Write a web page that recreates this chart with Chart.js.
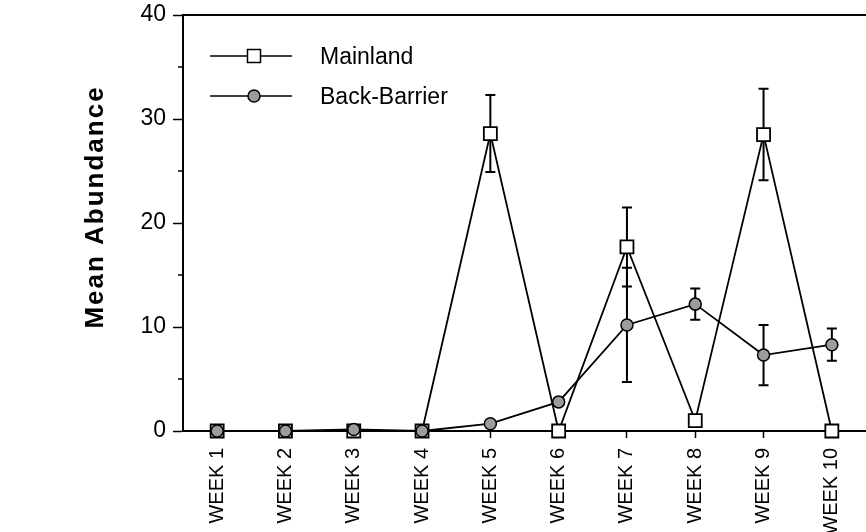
<!DOCTYPE html>
<html>
<head>
<meta charset="utf-8">
<script src="https://cdn.jsdelivr.net/npm/chart.js@4.4.0/dist/chart.umd.min.js"></script>
<style>
  html, body { margin: 0; padding: 0; background: #ffffff; }
  canvas { display: block; }
</style>
</head>
<body>
<canvas id="c" width="866" height="532"></canvas>
<script>
const categories = ['WEEK 1', 'WEEK 2', 'WEEK 3', 'WEEK 4', 'WEEK 5', 'WEEK 6', 'WEEK 7', 'WEEK 8', 'WEEK 9', 'WEEK 10'];
const mainland = [0, 0, 0, 0, 28.6, 0, 17.7, 1.0, 28.5, 0];
const mainlandErr = [0, 0, 0, 0, 3.7, 0, 3.8, 0.3, 4.4, 0];
const backBarrier = [0, 0, 0.15, 0, 0.7, 2.8, 10.2, 12.2, 7.3, 8.3];
const backBarrierErr = [0, 0, 0, 0, 0, 0, 5.5, 1.5, 2.9, 1.55];
const yMin = 0, yMax = 40, yStep = 10;
const yMinorTicks = [5, 15, 25, 35];
const yTitle = 'Mean Abundance';

const FONT = "'Liberation Sans', Arial, Helvetica, sans-serif";
const errors = [backBarrierErr, mainlandErr];

const errorBarPlugin = {
  id: 'errorBars',
  beforeDatasetsDraw(chart) {
    const ctx = chart.ctx;
    const xs = chart.scales.x, ys = chart.scales.y;
    ctx.save();
    ctx.strokeStyle = '#000';
    ctx.lineWidth = 2;
    chart.data.datasets.forEach((ds, di) => {
      const err = errors[di];
      ds.data.forEach((v, i) => {
        const e = err[i];
        if (!e) return;
        const x = xs.getPixelForValue(i);
        const yt = ys.getPixelForValue(v + e);
        const yb = ys.getPixelForValue(v - e);
        ctx.beginPath();
        ctx.moveTo(x, yt); ctx.lineTo(x, yb);
        ctx.moveTo(x - 5, yt); ctx.lineTo(x + 5, yt);
        ctx.moveTo(x - 5, yb); ctx.lineTo(x + 5, yb);
        ctx.stroke();
      });
    });
    ctx.restore();
  }
};

const decorPlugin = {
  id: 'decor',
  afterDraw(chart) {
    const ctx = chart.ctx;
    const a = chart.chartArea;
    const ys = chart.scales.y;
    ctx.save();
    ctx.strokeStyle = '#000';
    ctx.lineWidth = 2;
    ctx.beginPath();
    ctx.moveTo(a.left, a.top);
    ctx.lineTo(chart.width, a.top);
    ctx.moveTo(a.right, a.bottom);
    ctx.lineTo(chart.width, a.bottom);
    ctx.stroke();
    ctx.lineWidth = 1.5;
    yMinorTicks.forEach(v => {
      const y = ys.getPixelForValue(v);
      ctx.beginPath();
      ctx.moveTo(a.left - 5, y);
      ctx.lineTo(a.left, y);
      ctx.stroke();
    });
    ctx.fillStyle = '#000';
    ctx.font = "bold 26px " + FONT;
    try { ctx.letterSpacing = '2px'; } catch (e) {}
    ctx.textAlign = 'center';
    ctx.textBaseline = 'middle';
    ctx.translate(96, 207);
    ctx.rotate(-Math.PI / 2);
    ctx.fillText(yTitle, 0, 0);
    ctx.restore();

    ctx.save();
    try { ctx.letterSpacing = '0px'; } catch (e) {}
    const items = [chart.data.datasets[1], chart.data.datasets[0]];
    items.forEach((ds, k) => {
      const y = 56 + k * 40;
      ctx.strokeStyle = '#000';
      ctx.lineWidth = 1.5;
      ctx.beginPath();
      ctx.moveTo(210, y); ctx.lineTo(292, y);
      ctx.stroke();
      ctx.fillStyle = ds.pointBackgroundColor;
      ctx.lineWidth = 1.5;
      ctx.beginPath();
      if (ds.pointStyle === 'rect') {
        ctx.rect(254 - 6.5, y - 6.5, 13, 13);
      } else {
        ctx.arc(254, y, 6, 0, Math.PI * 2);
      }
      ctx.fill();
      ctx.stroke();
      ctx.fillStyle = '#000';
      ctx.font = "23px " + FONT;
      ctx.textAlign = 'left';
      ctx.textBaseline = 'middle';
      ctx.fillText(ds.label, 320, y + 2);
    });
    ctx.restore();
  }
};

new Chart(document.getElementById('c'), {
  type: 'line',
  data: {
    labels: categories,
    datasets: [
      {
        label: 'Back-Barrier',
        data: backBarrier,
        borderColor: '#000',
        borderWidth: 1.8,
        pointStyle: 'circle',
        pointRadius: 6,
        pointBorderWidth: 1.5,
        pointBorderColor: '#000',
        pointBackgroundColor: '#9c9c9c',
        tension: 0,
        clip: false,
        order: 0
      },
      {
        label: 'Mainland',
        data: mainland,
        borderColor: '#000',
        borderWidth: 1.8,
        pointStyle: 'rect',
        pointRadius: 9.2,
        pointBorderWidth: 1.8,
        pointBorderColor: '#000',
        pointBackgroundColor: '#ffffff',
        tension: 0,
        clip: false,
        order: 1
      }
    ]
  },
  options: {
    responsive: false,
    animation: false,
    devicePixelRatio: 1,
    layout: { autoPadding: false, padding: { top: 15, left: 0, right: 0, bottom: 0 } },
    plugins: { legend: { display: false }, tooltip: { enabled: false } },
    scales: {
      x: {
        type: 'category',
        offset: true,
        grid: { display: true, drawOnChartArea: false, offset: false, tickLength: 7, color: '#000', tickWidth: 1.5 },
        border: { display: true, color: '#000', width: 2 },
        ticks: {
          autoSkip: false, maxRotation: 90, minRotation: 90, padding: 10,
          color: '#000', font: { family: FONT, size: 20 }
        },
        afterFit(scale) { scale.height = 101; scale.paddingLeft = 0; scale.paddingRight = 0; }
      },
      y: {
        min: yMin, max: yMax,
        grid: { display: true, drawOnChartArea: false, tickLength: 10, color: '#000', tickWidth: 1.5 },
        border: { display: true, color: '#000', width: 2 },
        ticks: {
          stepSize: yStep, padding: 7, color: '#000',
          font: { family: FONT, size: 23 }
        },
        afterFit(scale) { scale.width = 183; scale.paddingTop = 0; scale.paddingBottom = 0; }
      }
    }
  },
  plugins: [errorBarPlugin, decorPlugin]
});
</script>
</body>
</html>
